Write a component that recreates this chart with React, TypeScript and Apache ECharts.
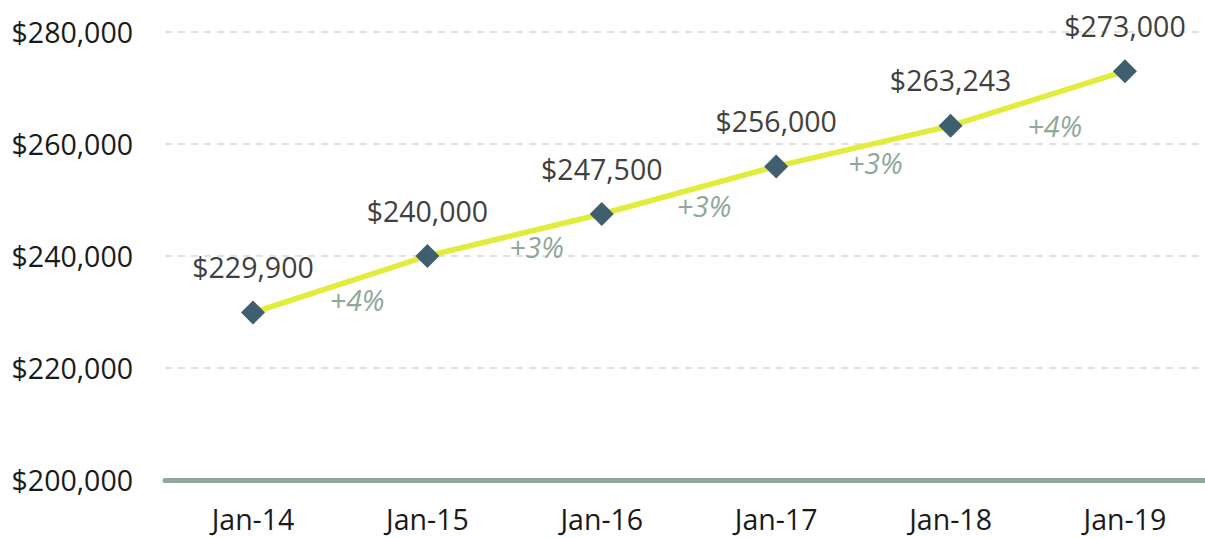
import React, { useEffect, useRef } from "react";
import * as echarts from "echarts";

const categories = ["Jan-14", "Jan-15", "Jan-16", "Jan-17", "Jan-18", "Jan-19"];
const prices = [229900, 240000, 247500, 256000, 263243, 273000];
const changes = ["+4%", "+3%", "+3%", "+3%", "+4%"];
const yTicks = [200000, 220000, 240000, 260000, 280000];

const fmt = (v: number) => "$" + v.toLocaleString("en-US");

export default function App() {
  const ref = useRef<HTMLDivElement>(null);
  useEffect(() => {
    if (!ref.current) return;
    const chart = echarts.init(ref.current, null, { renderer: "svg" });
    const font = "'Open Sans', 'Noto Sans', sans-serif";
    const fs = 28.5;
    const labelShift = [
      [17, 16],
      [22, 12],
      [15, 16],
      [12, 17],
      [17, 27],
    ];
    const lineData = prices.map((v, i) => [i, v]);
    const midData = changes.map((c, i) => ({
      value: [i + 0.5, (prices[i] + prices[i + 1]) / 2],
      label: { offset: labelShift[i] },
    }));
    chart.setOption({
      animation: false,
      grid: { left: 165, right: 0, top: 32, bottom: 58, containLabel: false },
      xAxis: {
        type: "value",
        min: -0.5046,
        max: 5.459,
        axisLine: { show: true, lineStyle: { color: "#8fa89a", width: 5 } },
        axisTick: { show: false },
        splitLine: { show: false },
        axisLabel: {
          customValues: categories.map((_, i) => i),
          formatter: (v: number) => categories[Math.round(v)] ?? "",
          color: "#1a1a1a",
          fontFamily: font,
          fontSize: fs,
          margin: 24,
        },
      },
      yAxis: {
        type: "value",
        min: 200000,
        max: 280000,
        interval: 20000,
        axisLine: { show: false },
        axisTick: { show: false },
        splitLine: { show: true, lineStyle: { color: "#d9d9d9", type: [7, 6], width: 1.5 } },
        axisLabel: {
          customValues: yTicks,
          formatter: (v: number) => fmt(v),
          color: "#1a1a1a",
          fontFamily: font,
          fontSize: fs,
          margin: 32,
        },
      },
      series: [
        {
          type: "line",
          data: lineData,
          symbol: "diamond",
          symbolSize: 24,
          lineStyle: { color: "#e2ec3c", width: 5.5 },
          itemStyle: { color: "#3f5f6f" },
          label: {
            show: true,
            position: "top",
            distance: 19,
            formatter: (p: any) => fmt(p.value[1]),
            color: "#404040",
            fontFamily: font,
            fontSize: fs,
          },
          z: 3,
        },
        {
          type: "scatter",
          data: midData,
          symbolSize: 2,
          itemStyle: { color: "rgba(0,0,0,0)", opacity: 1 },
          label: {
            show: true,
            position: "inside",
            formatter: (p: any) => changes[p.dataIndex],
            color: "#8fa89a",
            fontStyle: "italic",
            fontFamily: font,
            fontSize: fs,
          },
          z: 4,
        },
      ],
    });
    return () => chart.dispose();
  }, []);
  return (
    <div
      ref={ref}
      style={{ position: "absolute", left: 0, top: 0, width: 1205, height: 538 }}
    />
  );
}
